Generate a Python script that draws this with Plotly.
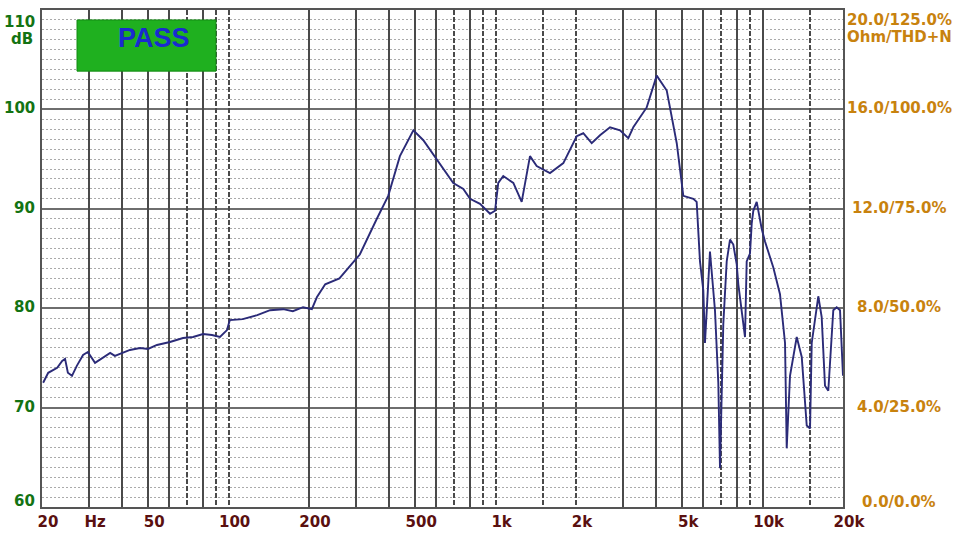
import math
import plotly.graph_objects as go

# ---- data ----
freq_hz = [20.2, 21.1, 22.8, 23.8, 24.4, 25.0, 25.9, 27.0, 28.5, 29.7, 31.6, 33.8, 36.0, 37.5,
           39.9, 42.7, 46.6, 49.9, 53.9, 60.3, 67.5, 73.6, 80.2, 86.6, 92.8, 98.6, 101, 113,
           128, 143, 160, 174, 190, 205, 214, 230, 260, 310, 359, 396, 438, 492, 536, 602,
           694, 757, 802, 874, 953, 995, 1023, 1068, 1165, 1252, 1345, 1425, 1598, 1793,
           2012, 2130, 2290, 2460, 2682, 2924, 3140, 3278, 3680, 4012, 4374, 4768, 5046,
           5500, 5662, 5826, 5996, 6082, 6350, 6630, 6824, 6924, 7026, 7124, 7336, 7548,
           7766, 7998, 8110, 8590, 8716, 8968, 9102, 9228, 9502, 9920, 10208, 10966, 11616,
           12130, 12308, 12664, 13420, 14012, 14628, 15050, 15272, 16162, 16642, 17124,
           17618, 18394, 18942, 19492, 20000]
spl_db = [72.5, 73.5, 74.0, 74.7, 74.9, 73.5, 73.2, 74.2, 75.3, 75.6, 74.5, 75.0, 75.5, 75.2,
          75.5, 75.8, 76.0, 75.9, 76.3, 76.6, 77.0, 77.1, 77.4, 77.3, 77.1, 77.8, 78.8, 78.9,
          79.3, 79.8, 79.9, 79.7, 80.1, 79.9, 81.1, 82.4, 83.0, 85.4, 89.0, 91.3, 95.3, 97.9,
          96.9, 95.0, 92.6, 92.0, 91.0, 90.5, 89.5, 89.8, 92.6, 93.3, 92.6, 90.7, 95.3, 94.3,
          93.6, 94.6, 97.3, 97.6, 96.6, 97.4, 98.2, 97.9, 97.1, 98.2, 100.2, 103.4, 101.9,
          96.6, 91.3, 91.0, 90.7, 84.7, 81.8, 76.5, 85.7, 79.8, 72.5, 63.9, 71.8, 78.4, 84.7,
          86.9, 86.4, 84.4, 82.4, 77.1, 84.7, 85.5, 88.5, 89.8, 90.7, 88.0, 86.7, 84.1, 81.4,
          76.5, 65.9, 73.2, 77.1, 75.1, 68.2, 67.9, 76.5, 81.2, 79.1, 72.2, 71.7, 79.8, 80.1,
          79.8, 73.2]

x_tick_vals = [20, 30, 50, 100, 200, 500, 1000, 2000, 5000, 10000, 20000]
x_tick_text = ["20", "Hz", "50", "100", "200", "500", "1k", "2k", "5k", "10k", "20k"]
solid_grid_hz = [30, 40, 50, 60, 80, 200, 300, 400, 500, 600, 800,
                 3000, 4000, 5000, 6000, 8000, 10000]
dashed_grid_hz = [70, 90, 100, 700, 900, 1000, 1500, 2000, 7000, 9000, 15000]
db_ticks = [110, 100, 90, 80, 70, 60]
db_text = ["110", "100", "90", "80", "70", "60"]
right_text = ["20.0/125.0%", "16.0/100.0%", "12.0/75.0%", "8.0/50.0%", "4.0/25.0%", "0.0/0.0%"]

FONT = "DejaVu Sans"
xr = [math.log10(20), math.log10(20000)]

fig = go.Figure()
fig.add_trace(go.Scatter(x=freq_hz, y=spl_db, mode="lines",
                         line=dict(color="#2b2b78", width=1.9),
                         hoverinfo="skip", showlegend=False))

fig.update_layout(
    width=964, height=539,
    margin=dict(l=42, r=121, t=8, b=26),
    paper_bgcolor="white", plot_bgcolor="white",
    showlegend=False,
    xaxis=dict(type="log", range=xr, tickmode="array", tickvals=x_tick_vals,
               ticktext=x_tick_text, showgrid=False, zeroline=False,
               showline=True, mirror=True, linecolor="#555555", linewidth=2,
               ticks="", ticklabelshift=6,
               tickfont=dict(family=FONT, size=15, color="#5a1010", weight="bold")),
    xaxis2=dict(type="log", range=xr, overlaying="x", anchor="y", tickmode="array",
                tickvals=solid_grid_hz, showticklabels=False, ticks="",
                showgrid=True, gridcolor="#4a4a4a", gridwidth=2, zeroline=False),
    xaxis3=dict(type="log", range=xr, overlaying="x", anchor="y", tickmode="array",
                tickvals=dashed_grid_hz, showticklabels=False, ticks="",
                showgrid=True, gridcolor="#4a4a4a", gridwidth=2, griddash="5px,2px",
                zeroline=False),
    yaxis=dict(range=[60, 110], tickmode="array", tickvals=db_ticks,
               showticklabels=False, ticks="", zeroline=False,
               showgrid=True, gridcolor="#6e6e6e", gridwidth=2,
               minor=dict(dtick=1, tick0=60, showgrid=True, gridcolor="#aaaaaa",
                          griddash="2px,2px", gridwidth=1),
               showline=True, mirror=True, linecolor="#555555", linewidth=2),
)

# empty traces so the overlay grid axes are created
fig.add_trace(go.Scatter(x=[], y=[], xaxis="x2", showlegend=False))
fig.add_trace(go.Scatter(x=[], y=[], xaxis="x3", showlegend=False))

# left dB labels
left_shift = {110: -12, 60: 6}
for v, t in zip(db_ticks, db_text):
    fig.add_annotation(x=0, xref="paper", y=v, yref="y", text=f"<b>{t}</b>",
                       xanchor="right", xshift=-5, yshift=left_shift.get(v, 1),
                       showarrow=False,
                       font=dict(family=FONT, size=15, color="#137313"))
fig.add_annotation(x=0, xref="paper", y=110, yref="y", text="<b>dB</b>",
                   xanchor="right", xshift=-7, yshift=-29, showarrow=False,
                   font=dict(family=FONT, size=15, color="#137313"))

# right Ohm/THD+N labels
right_shift = {110: -10, 60: 5}
for v, t in zip(db_ticks, right_text):
    fig.add_annotation(x=1.07, xref="paper", y=v, yref="y", text=f"<b>{t}</b>",
                       xanchor="center", yshift=right_shift.get(v, 1),
                       showarrow=False,
                       font=dict(family=FONT, size=15, color="#c8820e"))
fig.add_annotation(x=1.07, xref="paper", y=110, yref="y", text="<b>Ohm/THD+N</b>",
                   xanchor="center", yshift=-27, showarrow=False,
                   font=dict(family=FONT, size=15, color="#c8820e"))

# PASS badge
fig.add_shape(type="rect", xref="paper", yref="paper",
              x0=0.0437, x1=0.2172, y0=0.877, y1=0.980,
              fillcolor="#1fb01f", line=dict(color="#138a13", width=1), layer="above")
fig.add_annotation(x=0.1398, xref="paper", y=0.9446, yref="paper", text="<b>PASS</b>",
                   xanchor="center", yanchor="middle", showarrow=False,
                   font=dict(family="Liberation Sans", size=27, color="#1a2ad0"))

fig.write_html("out.html",
               config={"displayModeBar": False, "staticPlot": True},
               post_script="document.body.style.margin='0px';"
                           "document.body.style.overflow='hidden';")
